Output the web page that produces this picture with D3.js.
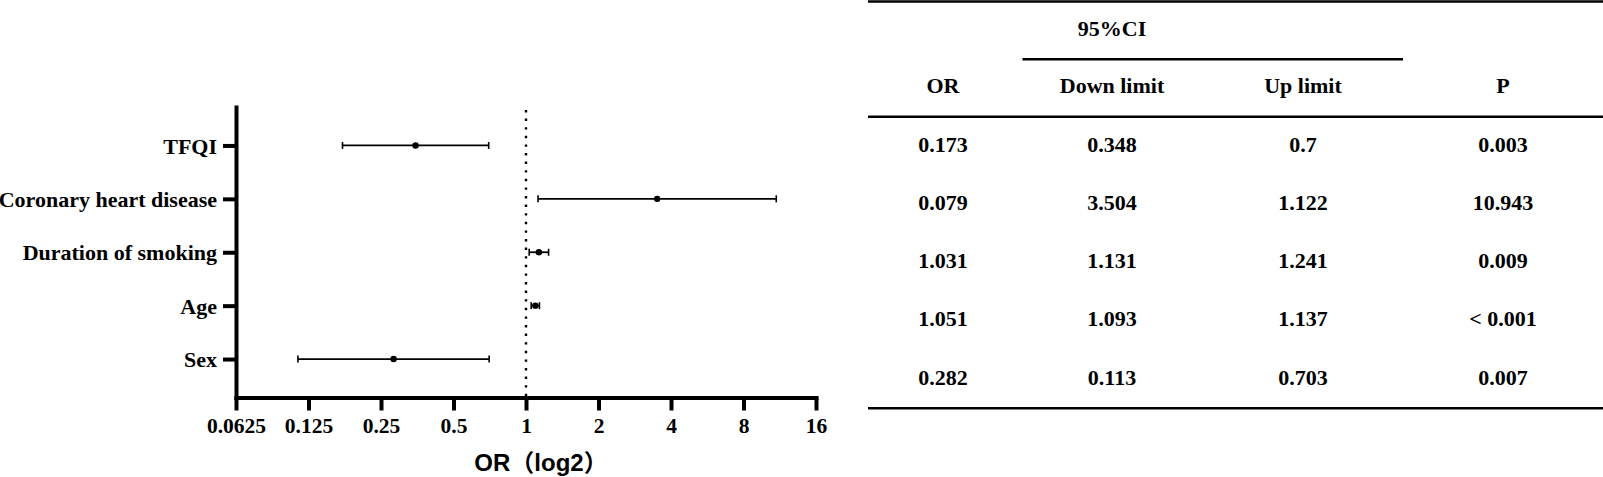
<!DOCTYPE html>
<html>
<head>
<meta charset="utf-8">
<script src="https://cdn.jsdelivr.net/npm/d3@7"></script>
<style>
    body { margin: 0; background: #fff; }
    svg { display: block; }
    .serif { font-family: "Liberation Serif", "Times New Roman", serif; font-weight: bold; }
</style>
</head>
<body>
<svg width="1603" height="477"></svg>
<script>
// forest plot values
var factors = ["TFQI", "Coronary heart disease", "Duration of smoking", "Age", "Sex"];
var orValues = [0.348, 3.504, 1.131, 1.093, 0.282];
var lowerCI = [0.173, 1.122, 1.031, 1.051, 0.113];
var upperCI = [0.7, 10.943, 1.241, 1.137, 0.703];
var xTicks = [0.0625, 0.125, 0.25, 0.5, 1, 2, 4, 8, 16];

// table columns, as printed
var tableHeaders = ["OR", "Down limit", "Up limit", "P"];
var colOR = ["0.173", "0.079", "1.031", "1.051", "0.282"];
var colDown = ["0.348", "3.504", "1.131", "1.093", "0.113"];
var colUp = ["0.7", "1.122", "1.241", "1.137", "0.703"];
var colP = ["0.003", "10.943", "0.009", "< 0.001", "0.007"];

var svg = d3.select("svg");

var x = d3.scaleLog().base(2)
    .domain([0.0625, 16])
    .range([236, 816]);

var y = d3.scalePoint()
    .domain(factors)
    .range([107, 397.5])
    .padding(0.72);

// x axis
var xAxis = svg.append("g")
    .attr("transform", "translate(0,397.5)")
    .call(d3.axisBottom(x).tickValues(xTicks).tickSize(13).tickSizeOuter(0)
        .tickFormat(function (d) { return String(d); }));

// y axis
var yAxis = svg.append("g")
    .attr("transform", "translate(236,0)")
    .call(d3.axisLeft(y).tickSize(13).tickSizeOuter(0).tickPadding(6));

[xAxis, yAxis].forEach(function (g) {
    g.select(".domain").attr("stroke", "#000").attr("stroke-width", 4).attr("stroke-linecap", "square");
    g.selectAll(".tick line").attr("stroke", "#000").attr("stroke-width", 4);
    g.selectAll(".tick text")
        .attr("class", "serif")
        .attr("fill", "#000")
        .style("font-size", "21.5px");
});
xAxis.selectAll(".tick text").attr("y", 35.5).attr("dy", 0);
yAxis.selectAll(".tick text").attr("dy", "0.35em").style("font-size", "22px");

// reference line at OR = 1
svg.append("line")
    .attr("x1", x(1)).attr("x2", x(1))
    .attr("y1", 110).attr("y2", 396)
    .attr("stroke", "#000")
    .attr("stroke-width", 2.4)
    .attr("stroke-dasharray", "2.4,6.2");

var rows = factors.map(function (f, i) {
    return {name: f, or: orValues[i], lo: lowerCI[i], hi: upperCI[i]};
});

var bars = svg.append("g").selectAll("g")
    .data(rows)
    .enter().append("g");

bars.append("line")
    .attr("x1", function (d) { return x(d.lo); })
    .attr("x2", function (d) { return x(d.hi); })
    .attr("y1", function (d) { return y(d.name); })
    .attr("y2", function (d) { return y(d.name); })
    .attr("stroke", "#000")
    .attr("stroke-width", 1.8);

["lo", "hi"].forEach(function (k) {
    bars.append("line")
        .attr("x1", function (d) { return x(d[k]); })
        .attr("x2", function (d) { return x(d[k]); })
        .attr("y1", function (d) { return y(d.name) - 3.5; })
        .attr("y2", function (d) { return y(d.name) + 3.5; })
        .attr("stroke", "#000")
        .attr("stroke-width", 1.6);
});

bars.append("circle")
    .attr("cx", function (d) { return x(d.or); })
    .attr("cy", function (d) { return y(d.name); })
    .attr("r", 3.2)
    .attr("fill", "#000");

svg.append("text")
    .attr("x", 541)
    .attr("y", 471)
    .attr("text-anchor", "middle")
    .style("font-family", "'Liberation Sans', Arial, 'Noto Sans CJK SC', sans-serif")
    .style("font-weight", "bold")
    .style("font-size", "24px")
    .text("OR（log2）");

// table
var colX = [943, 1112, 1303, 1503];
var tableLeft = 868, tableRight = 1603;

var rowY = d3.scaleBand()
    .domain(d3.range(colOR.length))
    .range([115, 406]);

var table = svg.append("g").attr("class", "serif").style("font-size", "22px");

[[1.5, tableLeft, tableRight, 2.4], [59.3, 1022.5, 1403, 2.4],
    [116.7, tableLeft, tableRight, 2.6], [408.3, tableLeft, tableRight, 2.6]].forEach(function (l) {
    table.append("line")
        .attr("x1", l[1]).attr("x2", l[2])
        .attr("y1", l[0]).attr("y2", l[0])
        .attr("stroke", "#000")
        .attr("stroke-width", l[3]);
});

table.append("text")
    .attr("x", colX[1])
    .attr("y", 28)
    .attr("dy", "0.35em")
    .attr("text-anchor", "middle")
    .text("95%CI");

table.selectAll(".hdr")
    .data(tableHeaders)
    .enter().append("text")
    .attr("class", "hdr")
    .attr("x", function (d, i) { return colX[i]; })
    .attr("y", 85.7)
    .attr("dy", "0.35em")
    .attr("text-anchor", "middle")
    .text(function (d) { return d; });

[colOR, colDown, colUp, colP].forEach(function (col, ci) {
    table.append("g").selectAll("text")
        .data(col)
        .enter().append("text")
        .attr("x", colX[ci])
        .attr("y", function (d, i) { return rowY(i) + rowY.bandwidth() / 2; })
        .attr("dy", "0.35em")
        .attr("text-anchor", "middle")
        .text(function (d) { return d; });
});
</script>
</body>
</html>
